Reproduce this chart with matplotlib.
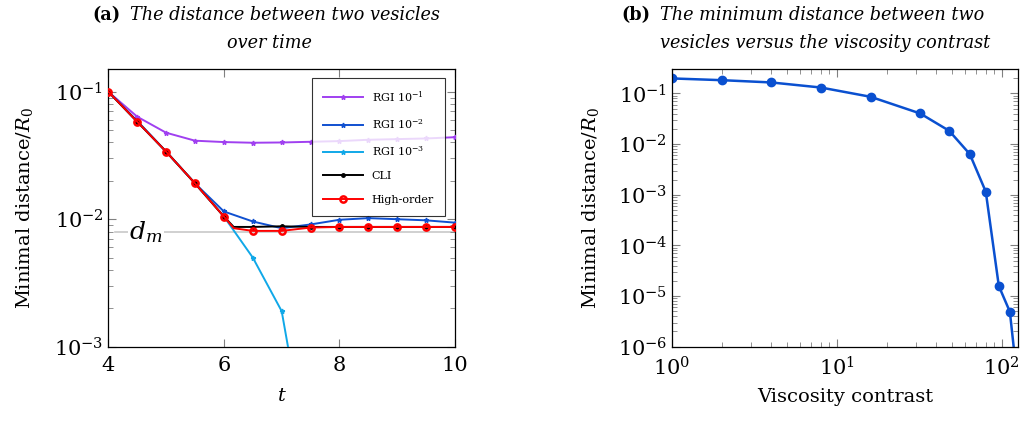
import matplotlib
matplotlib.use("Agg")
import matplotlib.pyplot as plt
from matplotlib.ticker import LogLocator, NullFormatter

plt.rcParams['font.family'] = ['DejaVu Serif']
plt.rcParams['mathtext.fontset'] = 'dejavuserif'

# (a) distance over time
t = [4, 4.5, 5, 5.5, 6, 6.5, 7, 7.5, 8, 8.5, 9, 9.5, 10]
rgi1 = [0.1, 0.0637, 0.0477, 0.0413, 0.0403, 0.0398, 0.040, 0.0405, 0.041, 0.042, 0.0425, 0.043, 0.044]
rgi2 = [0.1, 0.059, 0.034, 0.0191, 0.0115, 0.0096, 0.0085, 0.0091, 0.0099, 0.0102, 0.0100, 0.0098, 0.0094]
t3 = [4, 4.5, 5, 5.5, 6, 6.5, 7, 7.5]
rgi3 = [0.1, 0.0582, 0.0339, 0.0191, 0.0105, 0.0050, 0.0019, 0.0001]
t_fine = [4, 4.5, 5, 5.5, 6, 6.17, 6.5, 7, 7.5, 8, 8.5, 9, 9.5, 10]
cli = [0.1, 0.0582, 0.0339, 0.0191, 0.0105, 0.0087, 0.0087, 0.0088, 0.0087, 0.0087, 0.0087, 0.0087, 0.0087, 0.0087]
high = [0.1, 0.0582, 0.0339, 0.0191, 0.0105, 0.0085, 0.0081, 0.0081, 0.0086, 0.0087, 0.0087, 0.0087, 0.0087, 0.0087]
d_m = 0.008

# (b) minimum distance vs viscosity contrast
contrast = [1, 2, 4, 8, 16, 32, 48, 64, 80, 96, 112, 128]
min_dist = [0.198, 0.183, 0.165, 0.131, 0.086, 0.0403, 0.0183, 0.00635, 0.00115, 1.58e-5, 4.9e-6, 9e-8]

fig = plt.figure(figsize=(10.23, 4.21), dpi=100)
ax1 = fig.add_axes([0.1059, 0.1765, 0.3389, 0.6589])
ax2 = fig.add_axes([0.6569, 0.1765, 0.3385, 0.6589])

mark_fine = [0, 1, 2, 3, 4, 6, 7, 8, 9, 10, 11, 12, 13]

ax1.axhline(d_m, xmin=0.02, color='#c8c8c8', lw=1.2, zorder=1)
ax1.plot(t, rgi1, color='#a040f0', lw=1.4, marker='*', ms=3.5, label=r'RGI $10^{-1}$', zorder=3)
ax1.plot(t, rgi2, color='#1050d0', lw=1.4, marker='*', ms=3.5, label=r'RGI $10^{-2}$', zorder=3)
ax1.plot(t3, rgi3, color='#10a8e8', lw=1.4, marker='*', ms=3.5, label=r'RGI $10^{-3}$', zorder=3)
ax1.plot(t_fine, cli, color='black', lw=1.4, marker='.', ms=5, markevery=mark_fine, label='CLI', zorder=4)
ax1.plot(t_fine, high, color='red', lw=1.4, marker='o', ms=4.5, mfc='none', mew=1.8,
         markevery=mark_fine, label='High-order', zorder=5)

ax1.set_yscale('log')
ax1.set_xlim(4, 10)
ax1.set_ylim(1e-3, 0.15)
ax1.set_xticks([4, 6, 8, 10])
ax1.set_xlabel(r'$t$', fontsize=14, labelpad=8)
ax1.set_ylabel(r'Minimal distance/$R_0$', fontsize=14, labelpad=14)
ax1.text(4.65, d_m, r'$d_m$', fontsize=18, ha='center', va='center',
         bbox=dict(facecolor='white', edgecolor='none', pad=1), zorder=2)
leg = ax1.legend(loc='upper right', bbox_to_anchor=(0.9715, 0.969), borderaxespad=0,
                 fontsize=8, frameon=True, fancybox=False, edgecolor='black',
                 labelspacing=1.2, handlelength=3.6, borderpad=1.0)
leg.get_frame().set_linewidth(0.8)
leg.set_zorder(10)

ax2.plot(contrast, min_dist, color='#0a50d0', lw=1.8, marker='o', ms=6)
ax2.set_xscale('log')
ax2.set_yscale('log')
ax2.set_xlim(1, 126)
ax2.set_ylim(1e-6, 0.3)
ax2.set_xlabel('Viscosity contrast', fontsize=14, labelpad=6)
ax2.set_ylabel(r'Minimal distance/$R_0$', fontsize=14, labelpad=12)
ax2.yaxis.set_major_locator(LogLocator(base=10, numticks=10))

for ax in (ax1, ax2):
    ax.tick_params(which='both', direction='in', top=True, right=True, color='#808080', labelsize=15)
    ax.tick_params(which='major', length=6, width=0.8)
    ax.tick_params(which='minor', length=3.5, width=0.6)
    ax.tick_params(axis='x', pad=7)
    ax.yaxis.set_minor_locator(LogLocator(base=10, subs=range(2, 10), numticks=20))
    ax.yaxis.set_minor_formatter(NullFormatter())
    for s in ax.spines.values():
        s.set_linewidth(0.9)
ax2.xaxis.set_minor_formatter(NullFormatter())

# captions above the panels
cap = 12.7
fig.text(0.0899, 0.964, '(a)', fontsize=cap, fontweight='bold', va='center')
fig.text(0.1271, 0.964, 'The distance between two vesicles', fontsize=cap, style='italic', va='center')
fig.text(0.263, 0.898, 'over time', fontsize=cap, style='italic', va='center', ha='center')
fig.text(0.6077, 0.964, '(b)', fontsize=cap, fontweight='bold', va='center')
fig.text(0.6452, 0.964, 'The minimum distance between two', fontsize=cap, style='italic', va='center')
fig.text(0.6452, 0.898, 'vesicles versus the viscosity contrast', fontsize=cap, style='italic', va='center')

fig.savefig('out.png', dpi=100)
